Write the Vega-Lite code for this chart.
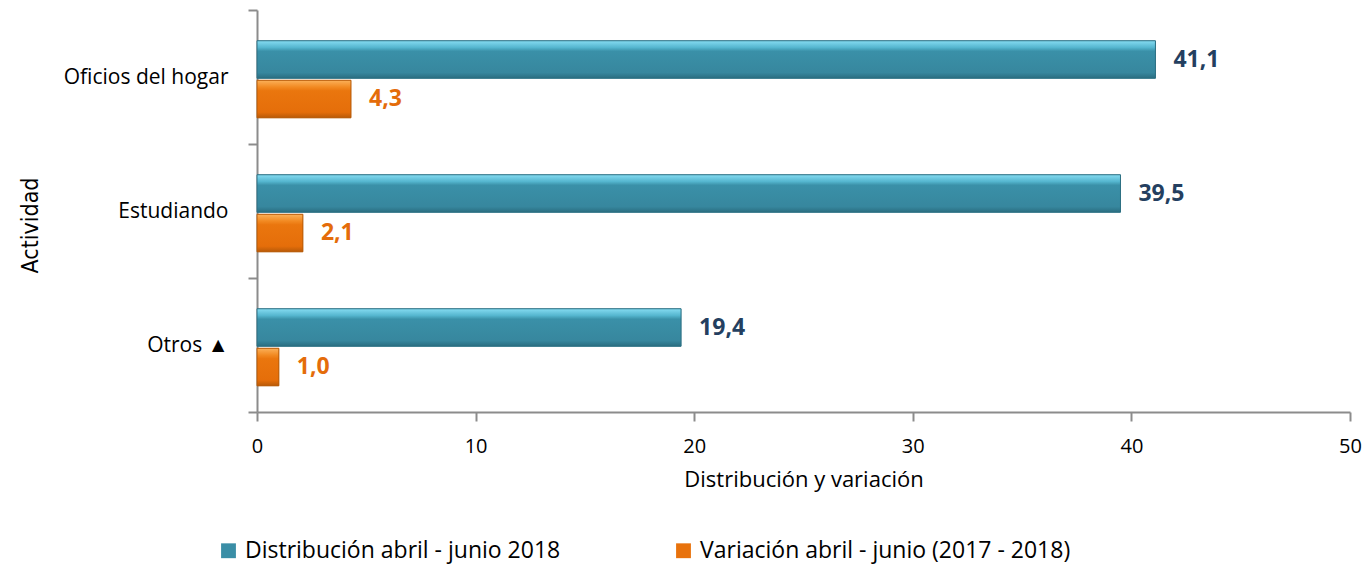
{
  "$schema": "https://vega.github.io/schema/vega-lite/v6.json",
  "width": 1093,
  "height": 402,
  "autosize": {"type": "none"},
  "padding": {"left": 257, "top": 10, "right": 19, "bottom": 154},
  "background": "white",
  "config": {
    "view": {"stroke": null},
    "locale": {"number": {"decimal": ",", "thousands": ".", "grouping": [3], "currency": ["", ""]}},
    "font": "Open Sans"
  },
  "data": {
    "values": [
      {"actividad": "Oficios del hogar", "serie": "Distribución abril - junio  2018", "valor": 41.1},
      {"actividad": "Oficios del hogar", "serie": "Variación abril - junio (2017 - 2018)", "valor": 4.3},
      {"actividad": "Estudiando", "serie": "Distribución abril - junio  2018", "valor": 39.5},
      {"actividad": "Estudiando", "serie": "Variación abril - junio (2017 - 2018)", "valor": 2.1},
      {"actividad": "Otros ▲", "serie": "Distribución abril - junio  2018", "valor": 19.4},
      {"actividad": "Otros ▲", "serie": "Variación abril - junio (2017 - 2018)", "valor": 1.0}
    ]
  },
  "encoding": {
    "y": {
      "field": "actividad", "type": "nominal", "sort": null,
      "scale": {"paddingInner": 0, "paddingOuter": 0},
      "axis": {
        "title": "Actividad", "titleFont": "DejaVu Sans Condensed", "titleFontSize": 23, "titleFontWeight": "normal",
        "titleColor": "#000000", "titleX": -227, "titleY": 215, "titleAngle": 270,
        "titleAlign": "center", "titleBaseline": "middle",
        "labelFontSize": 21, "labelColor": "#000000", "labelPadding": 20,
        "tickBand": "extent", "tickSize": 9, "tickColor": "#8c8c8c", "domainColor": "#8c8c8c",
        "domainWidth": 2, "tickWidth": 2, "grid": false
      }
    },
    "yOffset": {
      "field": "serie", "type": "nominal",
      "scale": {"paddingInner": 0.05, "paddingOuter": 0.72, "align": 0.54}
    },
    "x": {
      "field": "valor", "type": "quantitative",
      "scale": {"domain": [0, 50], "nice": false},
      "axis": {
        "title": "Distribución y variación", "titleFontSize": 22, "titleFontWeight": "normal", "titleColor": "#000000",
        "titlePadding": 13, "values": [0, 10, 20, 30, 40, 50], "format": "d", "labelFlush": false,
        "labelFontSize": 20, "labelColor": "#000000", "labelPadding": 15,
        "tickSize": 9, "tickColor": "#8c8c8c", "domainColor": "#8c8c8c", "domainWidth": 2, "tickWidth": 2,
        "grid": false
      }
    }
  },
  "layer": [
    {
      "mark": {"type": "bar"},
      "encoding": {
        "color": {
          "field": "serie", "type": "nominal",
          "scale": {"range": ["#3a8ea6", "#e8720c"]},
          "legend": {
            "title": null, "orient": "none", "direction": "horizontal",
            "legendX": -40, "legendY": 529,
            "symbolType": "square", "symbolSize": 220, "symbolStrokeWidth": 0,
            "labelFontSize": 23, "labelFont": "Open Sans", "labelColor": "#000000", "labelLimit": 0,
            "columnPadding": 105, "labelOffset": 5
          }
        }
      }
    },
    {
      "transform": [{"filter": "datum.serie === 'Distribución abril - junio  2018'"}],
      "mark": {
        "type": "bar",
        "stroke": "#2c6f82", "strokeWidth": 1,
        "fill": {
          "gradient": "linear", "x1": 0, "y1": 0, "x2": 0, "y2": 1,
          "stops": [
            {"offset": 0, "color": "#86dcf2"},
            {"offset": 0.18, "color": "#55b6cf"},
            {"offset": 0.28, "color": "#3a90a8"},
            {"offset": 0.85, "color": "#37879e"},
            {"offset": 1, "color": "#2a6d80"}
          ]
        }
      }
    },
    {
      "transform": [{"filter": "datum.serie !== 'Distribución abril - junio  2018'"}],
      "mark": {
        "type": "bar",
        "stroke": "#b55a08", "strokeWidth": 1,
        "fill": {
          "gradient": "linear", "x1": 0, "y1": 0, "x2": 0, "y2": 1,
          "stops": [
            {"offset": 0, "color": "#fbb15a"},
            {"offset": 0.18, "color": "#f28a22"},
            {"offset": 0.28, "color": "#ea760e"},
            {"offset": 0.85, "color": "#e56e0a"},
            {"offset": 1, "color": "#b85a08"}
          ]
        }
      }
    },
    {
      "mark": {"type": "text", "align": "left", "baseline": "middle", "dx": 18, "fontSize": 23, "fontWeight": "bold", "font": "Open Sans"},
      "encoding": {
        "text": {"field": "valor", "type": "quantitative", "format": ".1f"},
        "color": {
          "condition": {"test": "datum.serie === 'Distribución abril - junio  2018'", "value": "#243f60"},
          "value": "#e46c0a"
        }
      }
    }
  ]
}
